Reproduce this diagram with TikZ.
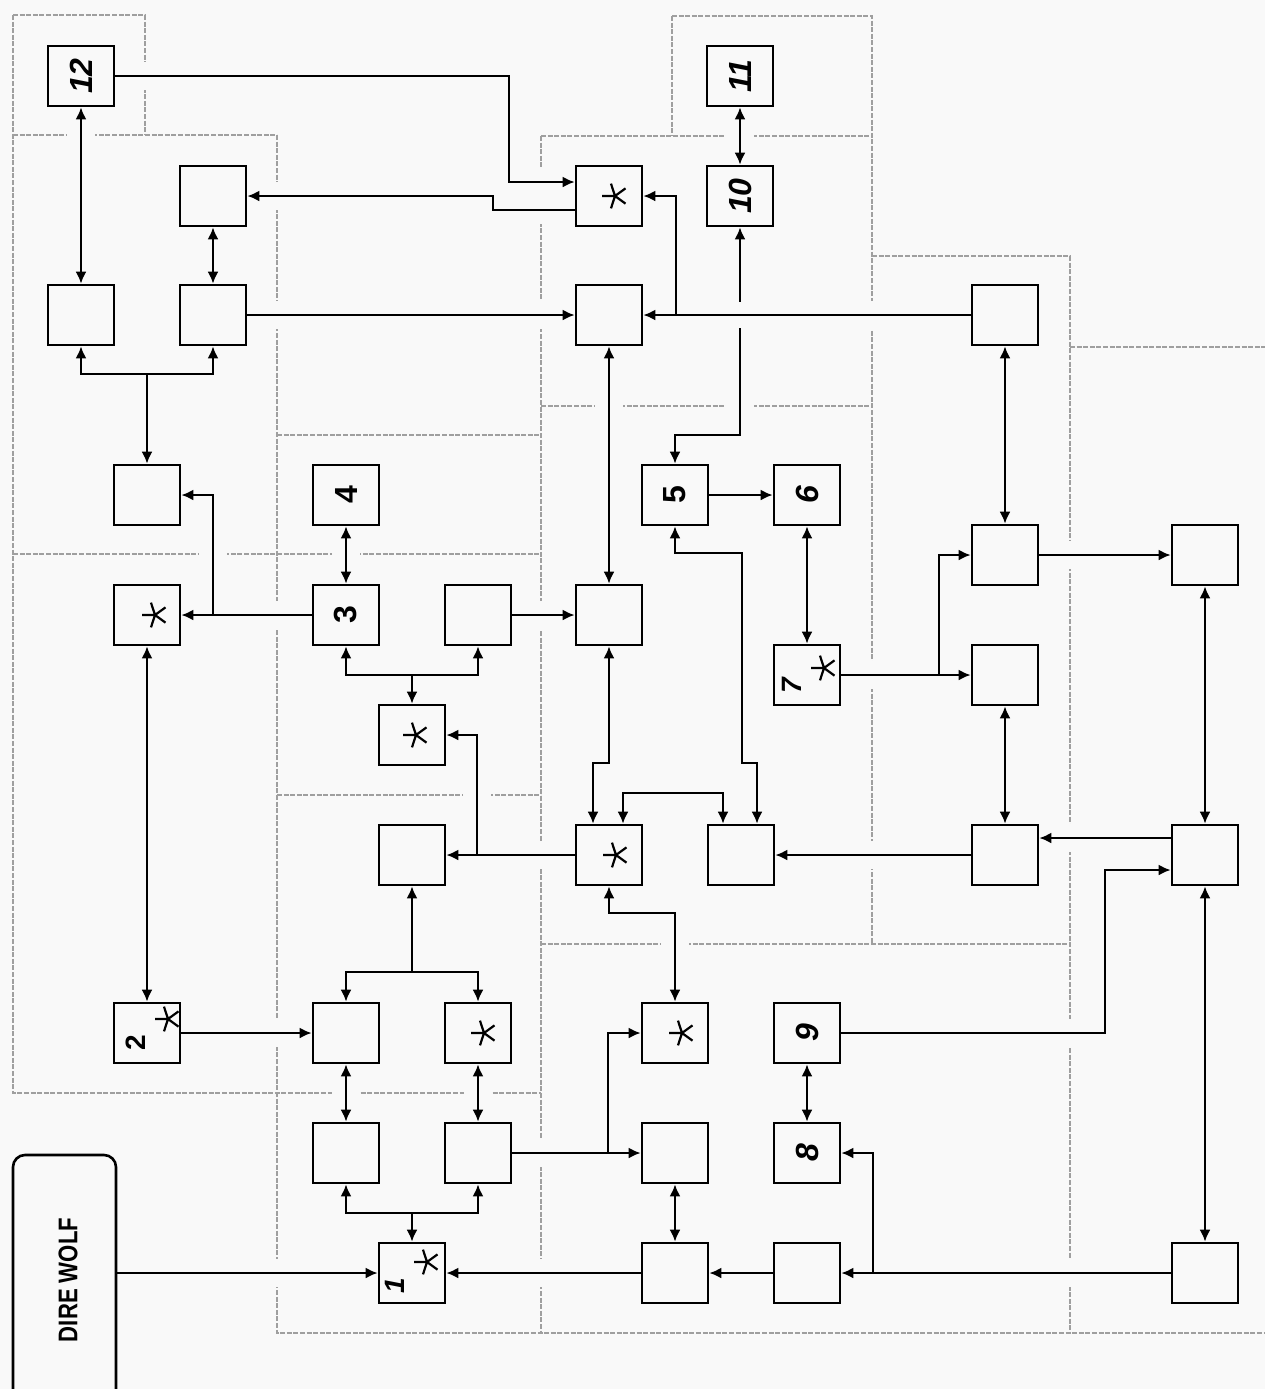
\documentclass[tikz,border=0pt]{standalone}
\usepackage{graphicx}
\usepackage{fontspec}
\setmainfont{Liberation Sans}
\newfontfamily\dwfont[FakeStretch=0.82]{Liberation Sans}
\usetikzlibrary{arrows.meta}
\pgfdeclarelayer{bg}
\pgfdeclarelayer{halo}
\pgfsetlayers{bg,halo,main}
\definecolor{paper}{gray}{0.975}
\tikzset{
  box/.style={draw, line width=1.3pt, fill=paper, minimum width=33pt, minimum height=30pt, inner sep=0pt},
  smalltxt/.style={font=\bfseries\itshape\fontsize{14}{14}\selectfont, rotate=90, inner sep=0pt},
  ln/.style={line width=1.15pt, >={Latex[length=6pt,width=5.5pt]}},
  dsh/.style={gray!75, line width=1.1pt, dash pattern=on 2.5pt off 0.8pt},
}
\newcommand\conn[2][]{%
  \begin{pgfonlayer}{halo}\draw[paper,line width=14pt] #2;\end{pgfonlayer}%
  \draw[ln,#1] #2;}
\newcommand\starmark[1]{%
  \draw[line width=1.1pt] #1 -- ++(180:13) #1 -- ++(108:13) #1 -- ++(252:13)
    #1 -- ++(36:13) #1 -- ++(324:13);}
\newcommand\bi[1]{\rotatebox{90}{\bfseries\itshape\fontsize{16}{16}\selectfont #1}}
\newcommand\bu[1]{\rotatebox{90}{\bfseries\fontsize{16}{16}\selectfont #1}}
\begin{document}
\begin{tikzpicture}[x=0.5pt,y=-0.5pt]
\useasboundingbox (0,0) rectangle (1265,1389);
\begin{pgfonlayer}{bg}
\fill[paper] (0,0) rectangle (1265,1389);
\draw[dsh] (13,15) -- (145,15) -- (145,135);
\draw[dsh] (13,15) -- (13,1093) -- (541,1093);
\draw[dsh] (13,135) -- (277,135);
\draw[dsh] (277,135) -- (277,1333) -- (1265,1333);
\draw[dsh] (13,554) -- (541,554);
\draw[dsh] (277,435) -- (541,435);
\draw[dsh] (277,795) -- (541,795);
\draw[dsh] (541,136) -- (541,1333);
\draw[dsh] (541,136) -- (872,136);
\draw[dsh] (672,16) -- (672,136);
\draw[dsh] (672,16) -- (872,16) -- (872,944);
\draw[dsh] (541,406) -- (872,406);
\draw[dsh] (872,256) -- (1070,256) -- (1070,1333);
\draw[dsh] (1070,347) -- (1265,347);
\draw[dsh] (541,944) -- (1070,944);
\end{pgfonlayer}

% boxes
\node[box] (n12) at (81,76) {\bi{12}};
\node[box] (n11) at (740,76) {\bi{11}};
\node[box] (B) at (213,196) {};
\node[box] (S1) at (609,196) {};
\node[box] (n10) at (740,196) {\bi{10}};
\node[box] (L1) at (81,315) {};
\node[box] (R1) at (213,315) {};
\node[box] (M1) at (609,315) {};
\node[box] (E1) at (1005,315) {};
\node[box] (C1) at (147,495) {};
\node[box] (n4) at (346,495) {\bu{4}};
\node[box] (n5) at (675,495) {\bu{5}};
\node[box] (n6) at (807,495) {\bi{6}};
\node[box] (E2) at (1005,555) {};
\node[box] (F1) at (1205,555) {};
\node[box] (S2) at (147,615) {};
\node[box] (n3) at (346,615) {\bu{3}};
\node[box] (G1) at (478,615) {};
\node[box] (M2) at (609,615) {};
\node[box] (n7) at (807,675) {};
\node[box] (E3) at (1005,675) {};
\node[box] (S3) at (412,735) {};
\node[box] (H1) at (412,855) {};
\node[box] (S4) at (609,855) {};
\node[box] (K1) at (741,855) {};
\node[box] (E4) at (1005,855) {};
\node[box] (F2) at (1205,855) {};
\node[box] (n2) at (147,1033) {};
\node[box] (P1) at (346,1033) {};
\node[box] (S5) at (478,1033) {};
\node[box] (S6) at (675,1033) {};
\node[box] (n9) at (807,1033) {\bi{9}};
\node[box] (P2) at (346,1153) {};
\node[box] (P3) at (478,1153) {};
\node[box] (Q1) at (675,1153) {};
\node[box] (n8) at (807,1153) {\bi{8}};
\node[box] (n1) at (412,1273) {};
\node[box] (Q2) at (675,1273) {};
\node[box] (Q3) at (807,1273) {};
\node[box] (F3) at (1205,1273) {};
\node[draw, line width=1.3pt, rounded corners=6pt, minimum width=51.5pt, minimum height=125pt, inner sep=0pt, fill=paper] (DW) at (64.5,1280) {};
\node[rotate=90, inner sep=0pt, font=\dwfont\bfseries\fontsize{13.5}{13.5}\selectfont] (DWt) at (68,1280) {DIRE WOLF};

% numbered star boxes
\node[smalltxt, font=\bfseries\fontsize{14}{14}\selectfont] (t2) at (136,1043) {2};
\node[smalltxt] (t7) at (792,686) {7};
\node[smalltxt] (t1) at (395,1286) {1};
\starmark{(168,1019)}
\starmark{(824,668)}
\starmark{(427,1262)}
% plain star boxes
\starmark{(615,196)}
\starmark{(155,615)}
\starmark{(416,735)}
\starmark{(616,855)}
\starmark{(484,1033)}
\starmark{(682,1033)}

% junction coordinates
\coordinate (jA) at (147,374);
\coordinate (jB) at (676,315);
\coordinate (jC) at (213,615);
\coordinate (jD) at (412,675);
\coordinate (jE) at (939,675);
\coordinate (jF) at (477,855);
\coordinate (jG) at (412,972);
\coordinate (jH) at (412,1213);
\coordinate (jI) at (608,1153);
\coordinate (jJ) at (873,1273);

% connectors
\conn[<->]{(n12.south) -- (L1.north)}
\conn[->]{(n12.east) -| (509,182) -- ([yshift=7pt]S1.west)}
\conn[->]{([yshift=-7pt]S1.west) -| (493,196) -- (B.east)}
\conn[<->]{(B.south) -- (R1.north)}
\conn[<->]{(L1.south) |- (jA) -| (R1.south)}
\conn[->]{(jA) -- (C1.north)}
\conn[<->]{(n11.south) -- (n10.north)}
\conn[<-]{(n10.south) -- (740,302)}
\conn[->]{(740,328) -- (740,435) -| (n5.north)}
\conn[->]{(R1.east) -- (M1.west)}
\conn[->]{(E1.west) -- (M1.east)}
\conn[->]{(jB) |- (S1.east)}
\conn[<->]{(M1.south) -- (M2.north)}
\conn[<->]{(E1.south) -- (E2.north)}
\conn[<->]{(n3.north) -- (n4.south)}
\conn[->]{(n3.west) -- (S2.east)}
\conn[->]{(jC) |- (C1.east)}
\conn[<->]{(S2.south) -- (n2.north)}
\conn[<->]{(n3.south) |- (jD) -| (G1.south)}
\conn[->]{(jD) -- (S3.north)}
\conn[->]{(G1.east) -- (M2.west)}
\conn[->]{(n5.east) -- (n6.west)}
\conn[<->]{(n6.south) -- (n7.north)}
\conn[<->]{(M2.south) -- (609,763) -| ([xshift=-8pt]S4.north)}
\conn[<->]{([xshift=7pt]S4.north) -- (623,793) -| ([xshift=-9pt]K1.north)}
\conn[<->]{(n5.south) |- (742,553) -- (742,763) -| ([xshift=8pt]K1.north)}
\conn[->]{(n7.east) -- (E3.west)}
\conn[->]{(jE) |- (E2.west)}
\conn[->]{(E2.east) -- (F1.west)}
\conn[<->]{(F1.south) -- (F2.north)}
\conn[<->]{(E3.south) -- (E4.north)}
\conn[->]{([yshift=8.5pt]F2.west) -- ([yshift=8.5pt]E4.east)}
\conn[->]{(E4.west) -- (K1.east)}
\conn[->]{(S4.west) -- (H1.east)}
\conn[->]{(jF) |- (S3.east)}
\conn[<->]{(P1.north) |- (jG) -| (S5.north)}
\conn[->]{(jG) -- (H1.south)}
\conn[->]{(n2.east) -- (P1.west)}
\conn[<->]{(P1.south) -- (P2.north)}
\conn[<->]{(S5.south) -- (P3.north)}
\conn[<->]{(P2.south) |- (jH) -| (P3.south)}
\conn[->]{(jH) -- (n1.north)}
\conn[->]{(P3.east) -- (Q1.west)}
\conn[->]{(jI) |- (S6.west)}
\conn[<->]{(S4.south) |- (675,913) -- (S6.north)}
\conn[<->]{(Q1.south) -- (Q2.north)}
\conn[->]{(Q2.west) -- (n1.east)}
\conn[->]{(Q3.west) -- (Q2.east)}
\conn[<->]{(n9.south) -- (n8.north)}
\conn[->]{(F3.west) -- (Q3.east)}
\conn[->]{(jJ) |- (n8.east)}
\conn[<->]{(F2.south) -- (F3.north)}
\conn[->]{(n9.east) -| (1105,870) -- ([yshift=-7.5pt]F2.west)}
\conn[->]{(DW.east |- n1) -- (n1.west)}
\end{tikzpicture}
\end{document}
